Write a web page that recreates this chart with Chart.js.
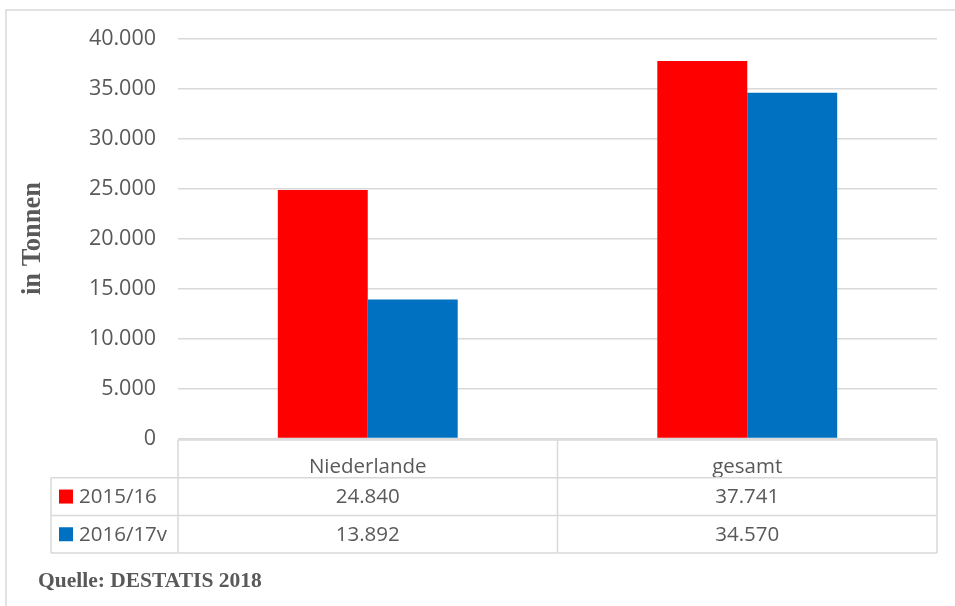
<!DOCTYPE html>
<html>
<head>
<meta charset="utf-8">
<script src="https://cdn.jsdelivr.net/npm/chart.js@4.4.1/dist/chart.umd.min.js"></script>
<style>
  html, body { margin: 0; padding: 0; background: #ffffff; }
  #wrap { width: 955px; height: 606px; position: relative; }
</style>
</head>
<body>
<div id="wrap"><canvas id="c" width="955" height="606"></canvas></div>
<script>
const categories = ['Niederlande', 'gesamt'];
const seriesNames = ['2015/16', '2016/17v'];
const values2015 = [24840, 37741];
const values2016 = [13892, 34570];
const seriesColors = ['#FF0000', '#0070C0'];
const yTitle = 'in Tonnen';
const sourceNote = 'Quelle: DESTATIS 2018';

const fmt = v => String(Math.round(v)).replace(/\B(?=(\d{3})+(?!\d))/g, '.');
const TEXT = '#595959';
const LINE = '#d9d9d9';
const FONT = '"Open Sans", "Liberation Sans", sans-serif';

const tablePlugin = {
  id: 'dataTable',
  beforeDraw(chart) {
    const ctx = chart.ctx;
    ctx.save();
    ctx.strokeStyle = LINE;
    ctx.lineWidth = 1.5;
    ctx.beginPath();
    ctx.moveTo(6, 606); ctx.lineTo(6, 10); ctx.lineTo(955, 10);
    ctx.stroke();
    ctx.restore();
  },
  afterDraw(chart) {
    const ctx = chart.ctx;
    const x = chart.scales.x;
    const area = chart.chartArea;
    const catW = (area.right - area.left) / categories.length;
    const rowTop = area.bottom + 1.5;
    const rowH = 37.7;
    const legendLeft = area.left - 127;
    const rows = [rowTop, rowTop + rowH, rowTop + 2 * rowH, rowTop + 3 * rowH];
    ctx.save();
    ctx.strokeStyle = LINE;
    ctx.lineWidth = 1.5;
    ctx.beginPath();
    ctx.moveTo(area.left, rows[0]); ctx.lineTo(area.right, rows[0]);
    for (let r = 1; r < rows.length; r++) {
      ctx.moveTo(legendLeft, rows[r]); ctx.lineTo(area.right, rows[r]);
    }
    ctx.moveTo(legendLeft, rows[1]); ctx.lineTo(legendLeft, rows[3]);
    for (let i = 0; i <= categories.length; i++) {
      const px = area.left + i * catW;
      ctx.moveTo(px, rows[0]); ctx.lineTo(px, rows[3]);
    }
    ctx.stroke();

    ctx.font = '20.5px ' + FONT;
    ctx.fillStyle = TEXT;
    ctx.textBaseline = 'middle';
    const data = [values2015, values2016];
    for (let s = 0; s < data.length; s++) {
      const cy = (rows[s + 1] + rows[s + 2]) / 2;
      ctx.textAlign = 'center';
      for (let i = 0; i < categories.length; i++) {
        ctx.fillText(fmt(data[s][i]), x.getPixelForValue(i), cy + 1);
      }
      ctx.fillStyle = seriesColors[s];
      ctx.fillRect(legendLeft + 8, cy - 7, 14, 14);
      ctx.fillStyle = TEXT;
      ctx.textAlign = 'left';
      ctx.fillText(seriesNames[s], legendLeft + 28, cy + 1);
    }

    ctx.font = 'bold 21.5px "Liberation Serif", "Times New Roman", serif';
    ctx.fillStyle = '#595959';
    ctx.textAlign = 'left';
    ctx.textBaseline = 'alphabetic';
    ctx.fillText(sourceNote, 38, 587);
    ctx.restore();
  }
};

new Chart(document.getElementById('c'), {
  type: 'bar',
  data: {
    labels: categories,
    datasets: [
      { label: seriesNames[0], data: values2015, backgroundColor: seriesColors[0], borderWidth: 0 },
      { label: seriesNames[1], data: values2016, backgroundColor: seriesColors[1], borderWidth: 0 }
    ]
  },
  options: {
    responsive: false,
    animation: false,
    devicePixelRatio: 1,
    layout: { padding: { left: 0, right: 18, top: 38.5, bottom: 0 } },
    plugins: { legend: { display: false }, tooltip: { enabled: false } },
    datasets: { bar: { categoryPercentage: 0.474, barPercentage: 1.0 } },
    scales: {
      x: {
        grid: { display: false },
        border: { display: false },
        ticks: { color: TEXT, font: { family: FONT, size: 20.5 }, padding: 8 },
        afterFit: s => { s.height = 167.5; }
      },
      y: {
        min: 0, max: 40000,
        ticks: { stepSize: 5000, color: TEXT, font: { family: FONT, size: 21.5 }, padding: 22, callback: v => fmt(v) },
        grid: { color: LINE, lineWidth: 1.5, drawTicks: false },
        border: { display: false },
        title: { display: true, text: yTitle, color: '#595959', font: { family: '"Liberation Serif", "Times New Roman", serif', size: 26.5, weight: 'bold' }, padding: { top: 17 } },
        afterFit: s => { s.width = 178; }
      }
    }
  },
  plugins: [tablePlugin]
});
</script>
</body>
</html>
